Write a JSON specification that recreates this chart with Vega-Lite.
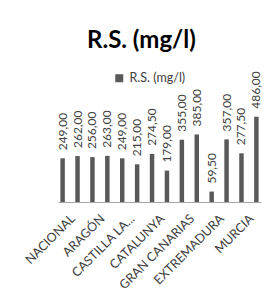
{
  "$schema": "https://vega.github.io/schema/vega-lite/v6.json",
  "width": 203,
  "height": 107,
  "autosize": "none",
  "padding": {"left": 58, "top": 95, "right": 16, "bottom": 95},
  "background": "white",
  "title": {
    "text": "R.S. (mg/l)",
    "font": "Lato",
    "fontSize": 24,
    "fontWeight": "bold",
    "color": "#000000",
    "anchor": "start",
    "frame": "group",
    "dx": 29,
    "offset": 18
  },
  "config": {
    "locale": {"number": {"decimal": ",", "thousands": ".", "grouping": [3], "currency": ["", " €"]}},
    "view": {"stroke": null},
    "font": "Lato"
  },
  "data": {
    "values": [
      {"region": "NACIONAL", "valor": 249.0},
      {"region": "ANDALUCÍA", "valor": 262.0},
      {"region": "ARAGÓN", "valor": 256.0},
      {"region": "ASTURIAS", "valor": 263.0},
      {"region": "CASTILLA LA MANCHA", "valor": 249.0},
      {"region": "CASTILLA Y LEÓN", "valor": 215.0},
      {"region": "CATALUNYA", "valor": 274.5},
      {"region": "COMUNIDAD VALENCIANA", "valor": 179.0},
      {"region": "GRAN CANARIAS", "valor": 355.0},
      {"region": "TENERIFE", "valor": 385.0},
      {"region": "EXTREMADURA", "valor": 59.5},
      {"region": "GALICIA", "valor": 357.0},
      {"region": "MURCIA", "valor": 277.5},
      {"region": "NAVARRA", "valor": 486.0}
    ]
  },
  "encoding": {
    "x": {
      "field": "region",
      "type": "nominal",
      "sort": null,
      "scale": {"paddingInner": 0.7, "paddingOuter": 0.16},
      "axis": {
        "title": null,
        "labelAngle": -45,
        "labelFont": "Lato",
        "labelFontSize": 12.5,
        "labelColor": "#404040",
        "ticks": false,
        "domainColor": "#a6a6a6",
        "labelPadding": 10,
        "labelOffset": 6,
        "labelExpr": "datum.value == 'CASTILLA LA MANCHA' ? 'CASTILLA LA...' : (indexof(['NACIONAL','ARAGÓN','CATALUNYA','GRAN CANARIAS','EXTREMADURA','MURCIA'], datum.value) >= 0 ? datum.value : '')"
      }
    },
    "y": {
      "field": "valor",
      "type": "quantitative",
      "scale": {"domain": [0, 610]},
      "axis": null
    }
  },
  "layer": [
    {
      "mark": {"type": "bar", "color": "#595959"},
      "encoding": {
        "color": {
          "datum": "R.S. (mg/l)",
          "type": "nominal",
          "scale": {"range": ["#595959"]},
          "legend": {
            "title": null,
            "orient": "none",
            "legendX": 55,
            "legendY": -23,
            "symbolType": "square",
            "symbolSize": 64,
            "labelFont": "Lato",
            "labelFontSize": 12.5,
            "labelColor": "#404040"
          }
        }
      }
    },
    {
      "mark": {"type": "text", "angle": -90, "align": "left", "baseline": "middle", "dx": 8, "font": "Lato", "fontSize": 12, "color": "#404040"},
      "encoding": {
        "text": {"field": "valor", "type": "quantitative", "format": ".2f"}
      }
    }
  ]
}
